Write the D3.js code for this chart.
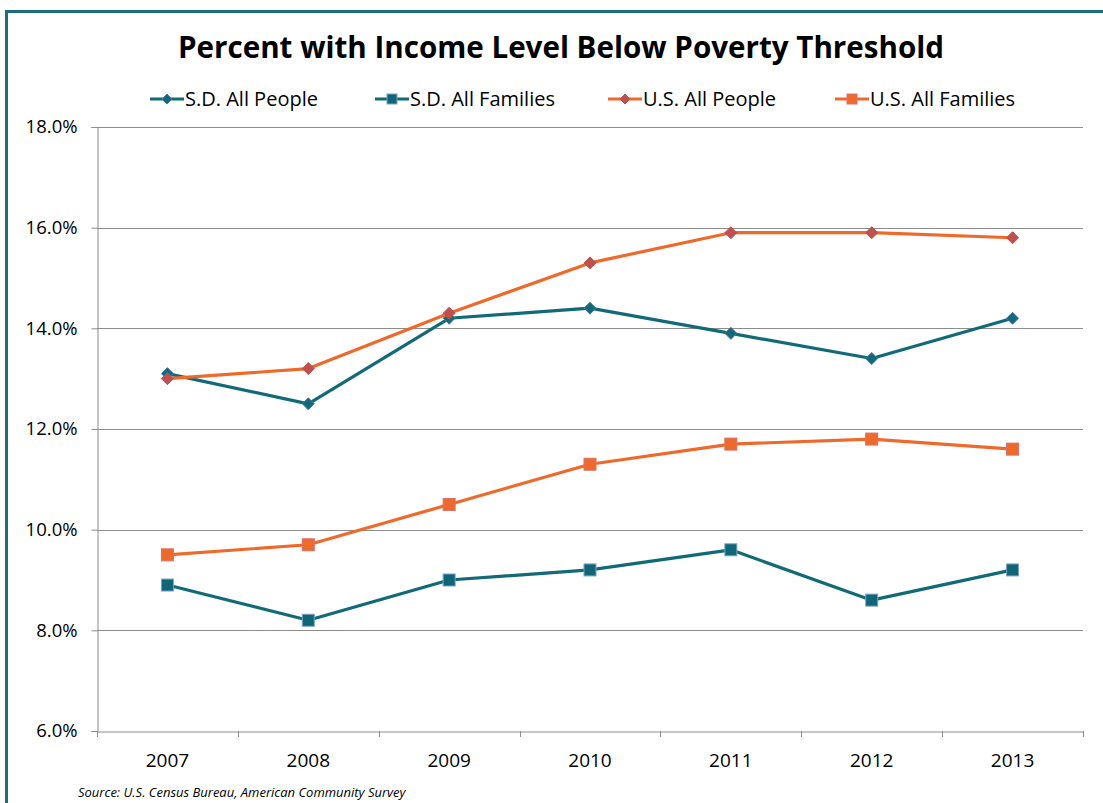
<!DOCTYPE html>
<html><head><meta charset="utf-8">
<script src="https://cdn.jsdelivr.net/npm/d3@7"></script>
<style>body{margin:0;background:#fff}svg{display:block}text{font-family:"Open Sans",sans-serif}</style>
</head><body>
<svg id="c" width="1103" height="803"></svg>
<script>
const years = ["2007","2008","2009","2010","2011","2012","2013"];
const sdPeople = [13.1,12.5,14.2,14.4,13.9,13.4,14.2];
const sdFamilies = [8.9,8.2,9.0,9.2,9.6,8.6,9.2];
const usPeople = [13.0,13.2,14.3,15.3,15.9,15.9,15.8];
const usFamilies = [9.5,9.7,10.5,11.3,11.7,11.8,11.6];
const yTicks = [6,8,10,12,14,16,18];
const seriesNames = ["S.D. All People","S.D. All Families","U.S. All People","U.S. All Families"];

const series = [
  {name:seriesNames[0], values:sdPeople, line:"#126A78", fill:"#126A78", stroke:"#4A78B0", shape:"diamond"},
  {name:seriesNames[1], values:sdFamilies, line:"#126A78", fill:"#0E6677", stroke:"#7F9FCC", shape:"square"},
  {name:seriesNames[2], values:usPeople, line:"#EE6A2C", fill:"#C0504D", stroke:"#C0504D", shape:"diamond"},
  {name:seriesNames[3], values:usFamilies, line:"#EE6A2C", fill:"#EE6A2C", stroke:"#D9706A", shape:"square"}
];

const svg = d3.select("#c");
svg.append("rect").attr("x",6.5).attr("y",11.5).attr("width",1120).attr("height",820)
  .attr("fill","none").attr("stroke","#1A6E80").attr("stroke-width",3);

const L=97, R=1083, T=127, B=731;
const x = d3.scaleBand().domain(years).range([L,R]);
const y = d3.scaleLinear().domain([6,18]).range([B,T]);

svg.append("g").selectAll("line").data(yTicks.slice(1)).join("line")
  .attr("x1",L).attr("x2",R).attr("y1",d=>Math.round(y(d))+0.5).attr("y2",d=>Math.round(y(d))+0.5)
  .attr("stroke","#8c8c8c").attr("stroke-width",1);

const ya = svg.append("g").attr("transform",`translate(${L+0.5},0)`)
  .call(d3.axisLeft(y).tickValues(yTicks).tickFormat(d=>d.toFixed(1)+"%").tickSize(6).tickPadding(14));
ya.select(".domain").attr("stroke","#8c8c8c");
ya.selectAll(".tick line").attr("stroke","#8c8c8c");
ya.selectAll("text").attr("font-size",18.5).attr("fill","#000").attr("font-family","Open Sans");

const xa = svg.append("g").attr("transform",`translate(0,${B+0.5})`)
  .call(d3.axisBottom(x).tickSize(0).tickPadding(22));
xa.select(".domain").attr("stroke","#8c8c8c");
xa.selectAll("text").attr("font-size",19).attr("fill","#000").attr("font-family","Open Sans");
const edges = years.map(d=>x(d)).concat([R]);
svg.append("g").selectAll("line").data(edges).join("line")
  .attr("x1",d=>Math.round(d)+0.5).attr("x2",d=>Math.round(d)+0.5).attr("y1",B).attr("y2",B+6)
  .attr("stroke","#8c8c8c");

const cx = d=>x(d)+x.bandwidth()/2;
const line = d3.line().x((v,i)=>cx(years[i])).y(v=>y(v));

function marker(g, shape, px, py, s){
  if(shape==="diamond"){
    g.append("path").attr("d",`M${px},${py-s}L${px+s},${py}L${px},${py+s}L${px-s},${py}Z`);
  } else {
    g.append("rect").attr("x",px-s).attr("y",py-s).attr("width",2*s).attr("height",2*s);
  }
}

series.forEach(s=>{
  svg.append("path").datum(s.values).attr("d",line).attr("fill","none")
    .attr("stroke",s.line).attr("stroke-width",3.2).attr("stroke-linejoin","round");
  const g = svg.append("g").attr("fill",s.fill).attr("stroke",s.stroke).attr("stroke-width",1);
  s.values.forEach((v,i)=>marker(g,s.shape,cx(years[i]),y(v),6));
});

svg.append("text").attr("x",561).attr("y",58).attr("text-anchor","middle")
  .attr("font-size",30).attr("font-weight","bold").attr("textLength",766).attr("lengthAdjust","spacingAndGlyphs")
  .text("Percent with Income Level Below Poverty Threshold");

const legText = [185,410,643,870];
series.forEach((s,i)=>{
  const g = svg.append("g");
  const x0 = legText[i]-35;
  g.append("line").attr("x1",x0).attr("x2",x0+34).attr("y1",99).attr("y2",99)
    .attr("stroke",s.line).attr("stroke-width",3.2);
  const mg = g.append("g").attr("fill",s.fill).attr("stroke",s.stroke);
  marker(mg,s.shape,x0+17,99,5);
  g.append("text").attr("x",legText[i]).attr("y",106).attr("font-size",20).text(s.name);
});

svg.append("text").attr("x",78).attr("y",797).attr("font-size",13).attr("font-style","italic")
  .text("Source: U.S. Census Bureau, American Community Survey");
</script>
</body></html>
